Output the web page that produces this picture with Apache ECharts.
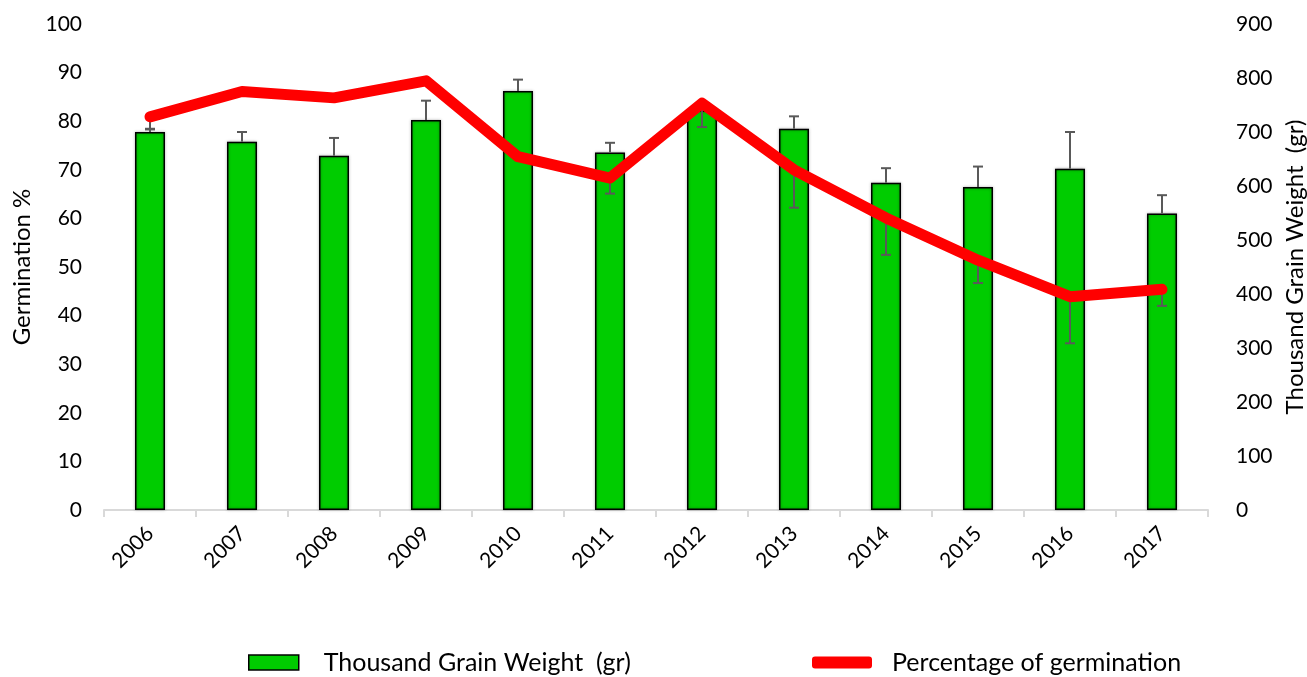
<!DOCTYPE html>
<html>
<head>
<meta charset="utf-8">
<script src="https://cdn.jsdelivr.net/npm/echarts@6/dist/echarts.min.js"></script>
<style>
  html, body { margin: 0; padding: 0; background: #fff; }
  #chart { width: 1307px; height: 677px; }
</style>
</head>
<body>
<div id="chart"></div>
<script>
const years = ['2006', '2007', '2008', '2009', '2010', '2011', '2012', '2013', '2014', '2015', '2016', '2017'];
// thousand grain weight (gr), right axis
const grainWeight = [700, 682, 656, 722, 776, 662, 740, 706, 606, 598, 632, 549];
const weightErrPlus = [6, 18, 33, 36, 21, 18, 10, 23, 27, 38, 68, 34];
// germination %, left axis
const germination = [80.9, 86.1, 84.8, 88.3, 72.7, 68.3, 83.7, 70.0, 60.1, 51.4, 43.9, 45.4];
const germErrMinus = [2.6, 0, 0, 0, 0, 3.2, 4.9, 7.8, 7.6, 4.7, 9.6, 3.4];

const weightName = 'Thousand Grain Weight  (gr)';
const germName = 'Percentage of germination';
const font = 'Lato, "Open Sans", sans-serif';

function errorBar(params, api) {
  const x = api.value(0);
  const from = api.coord([x, api.value(1)]);
  const to = api.coord([x, api.value(2)]);
  if (Math.abs(from[1] - to[1]) < 0.5) return null;
  const style = { stroke: '#595959', lineWidth: 2 };
  return {
    type: 'group',
    children: [
      { type: 'line', shape: { x1: from[0], y1: from[1], x2: to[0], y2: to[1] }, style: style },
      { type: 'line', shape: { x1: to[0] - 5, y1: to[1], x2: to[0] + 5, y2: to[1] }, style: style }
    ]
  };
}

const chart = echarts.init(document.getElementById('chart'), null, { renderer: 'canvas' });

chart.setOption({
  animation: false,
  textStyle: { fontFamily: font },
  grid: { left: 104, right: 99, top: 24, bottom: 167, outerBoundsMode: 'none' },
  legend: [
    {
      data: [{ name: weightName, icon: 'rect' }],
      left: 248, top: 650, padding: 0,
      itemWidth: 50, itemHeight: 15,
      itemStyle: { borderColor: '#000', borderWidth: 1.5 },
      textStyle: { fontSize: 25, color: '#000', fontFamily: font, padding: [0, 0, 0, 20] }
    },
    {
      data: [{ name: germName, icon: 'roundRect' }],
      left: 812, top: 650, padding: 0,
      itemWidth: 60, itemHeight: 12,
      itemStyle: { color: '#ff0000', borderWidth: 0 },
      textStyle: { fontSize: 25, color: '#000', fontFamily: font, padding: [0, 0, 0, 15] }
    }
  ],
  xAxis: {
    type: 'category',
    data: years,
    boundaryGap: true,
    axisLine: { lineStyle: { color: '#d9d9d9', width: 2 } },
    axisTick: { show: true, length: 7, lineStyle: { color: '#d9d9d9', width: 2 } },
    axisLabel: { rotate: 45, fontSize: 21, color: '#000', margin: 20, fontFamily: font }
  },
  yAxis: [
    {
      type: 'value', min: 0, max: 100, interval: 10,
      name: 'Germination %', nameLocation: 'middle', nameGap: 68,
      nameTextStyle: { fontSize: 24, color: '#000', fontFamily: font },
      axisLine: { show: false }, axisTick: { show: false }, splitLine: { show: false },
      axisLabel: { fontSize: 21, color: '#000', margin: 22, fontFamily: font }
    },
    {
      type: 'value', min: 0, max: 900, interval: 100,
      name: weightName, nameLocation: 'middle', nameGap: 67,
      nameTextStyle: { fontSize: 24, color: '#000', fontFamily: font },
      axisLine: { show: false }, axisTick: { show: false }, splitLine: { show: false },
      axisLabel: { fontSize: 21, color: '#000', margin: 28, fontFamily: font }
    }
  ],
  series: [
    {
      name: weightName,
      type: 'bar',
      yAxisIndex: 1,
      data: grainWeight,
      barWidth: 30,
      z: 2,
      itemStyle: {
        color: '#00cc00', borderColor: '#000', borderWidth: 1.5,
        shadowColor: 'rgba(0,0,0,0.35)', shadowBlur: 3
      }
    },
    {
      type: 'custom',
      yAxisIndex: 1,
      z: 3,
      renderItem: errorBar,
      encode: { x: 0, y: [1, 2] },
      data: grainWeight.map((v, i) => [i, v, v + weightErrPlus[i]])
    },
    {
      type: 'custom',
      yAxisIndex: 0,
      z: 3,
      renderItem: errorBar,
      encode: { x: 0, y: [1, 2] },
      data: germination.map((v, i) => [i, v, v - germErrMinus[i]])
    },
    {
      name: germName,
      type: 'line',
      yAxisIndex: 0,
      data: germination,
      symbol: 'none',
      z: 4,
      lineStyle: { color: '#ff0000', width: 11, cap: 'round', join: 'round' },
      itemStyle: { color: '#ff0000' }
    }
  ]
});
</script>
</body>
</html>
